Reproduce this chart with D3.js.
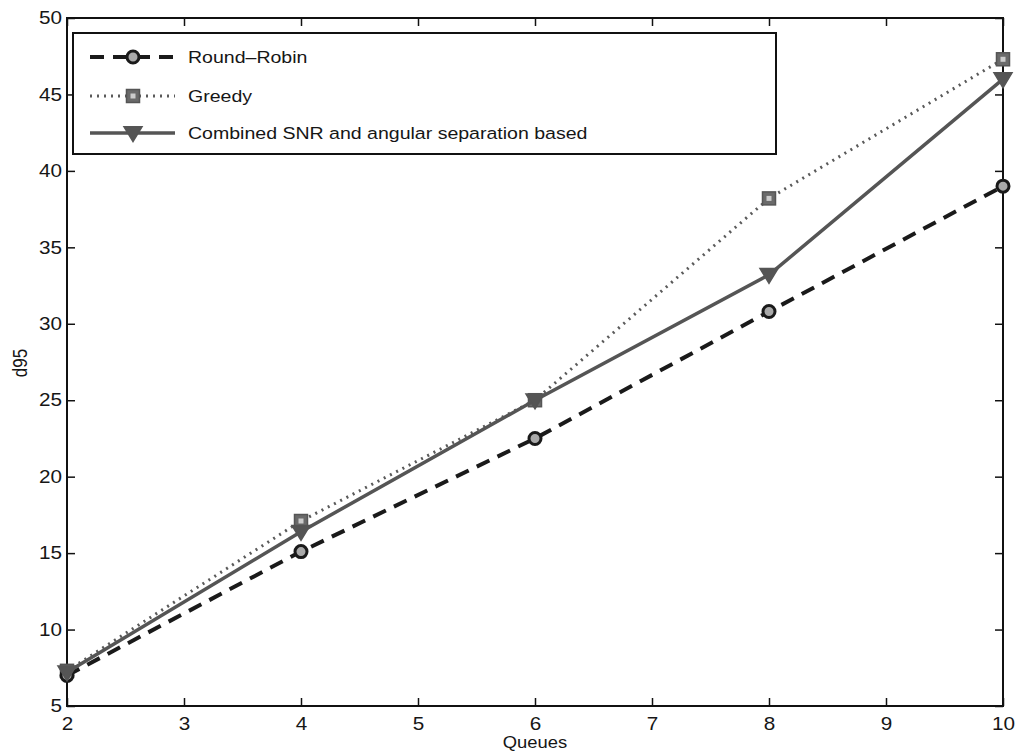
<!DOCTYPE html>
<html>
<head>
<meta charset="utf-8">
<script src="https://cdn.jsdelivr.net/npm/d3@7/dist/d3.min.js"></script>
<style>
  html, body { margin: 0; padding: 0; background: #fff; }
  svg { display: block; font-family: "Liberation Sans", Arial, Helvetica, sans-serif; }
</style>
</head>
<body>
<svg id="chart" width="1020" height="755"></svg>
<script>
// Number of queues on the x axis
const queues = [2, 4, 6, 8, 10];

// d95 values per scheduling scheme
const roundRobin = [7.0, 15.1, 22.5, 30.8, 39.0];
const greedy     = [7.3, 17.1, 25.0, 38.2, 47.3];
const combined   = [7.2, 16.4, 25.0, 33.2, 46.0];

// Tick labels
const xTicks = [2, 3, 4, 5, 6, 7, 8, 9, 10];
const yTicks = [5, 10, 15, 20, 25, 30, 35, 40, 45, 50];

const seriesNames = ["Round\u2013Robin", "Greedy", "Combined SNR and angular separation based"];

const svg = d3.select("#chart");
const plotLeft = 67, plotRight = 1003, plotTop = 18, plotBottom = 706;

const x = d3.scaleLinear().domain([2, 10]).range([plotLeft, plotRight]);
const y = d3.scaleLinear().domain([5, 50]).range([plotBottom, plotTop]);

const tickLen = 8;
const axisColor = "#111";
const textColor = "#161616";
const stretch = 1.15;   // glyphs are a little wider than regular Helvetica

// Inward ticks on all four sides
const axisG = svg.append("g");
const xAxisB = d3.axisBottom(x).tickValues(xTicks).tickSizeInner(-tickLen).tickSizeOuter(0).tickPadding(11).tickFormat(d3.format("d"));
const xAxisT = d3.axisTop(x).tickValues(xTicks).tickSizeInner(-tickLen).tickSizeOuter(0).tickFormat("");
const yAxisL = d3.axisLeft(y).tickValues(yTicks).tickSizeInner(-tickLen).tickSizeOuter(0).tickPadding(5).tickFormat(d3.format("d"));
const yAxisR = d3.axisRight(y).tickValues(yTicks).tickSizeInner(-tickLen).tickSizeOuter(0).tickFormat("");

const gb = axisG.append("g").attr("transform", `translate(0,${plotBottom})`).call(xAxisB);
const gt = axisG.append("g").attr("transform", `translate(0,${plotTop})`).call(xAxisT);
const gl = axisG.append("g").attr("transform", `translate(${plotLeft},0)`).call(yAxisL);
const gr = axisG.append("g").attr("transform", `translate(${plotRight},0)`).call(yAxisR);

[gb, gt, gl, gr].forEach(g => {
  g.select(".domain").remove();
  g.selectAll(".tick line").attr("stroke", axisColor).attr("stroke-width", 1.5);
  g.selectAll(".tick text").attr("fill", textColor).attr("font-size", 18)
    .attr("transform", `scale(${stretch},1)`);
});
gl.selectAll(".tick text").attr("x", -5 / stretch);

// Plot box
svg.append("rect")
  .attr("x", plotLeft).attr("y", plotTop)
  .attr("width", plotRight - plotLeft).attr("height", plotBottom - plotTop)
  .attr("fill", "none").attr("stroke", axisColor).attr("stroke-width", 2);

// Axis titles
svg.append("text").attr("transform", `translate(${(plotLeft + plotRight) / 2},748) scale(${stretch},1)`)
  .attr("text-anchor", "middle").attr("font-size", 16).attr("fill", textColor).text("Queues");
svg.append("text").attr("transform", `translate(27,${(plotTop + plotBottom) / 2 + 1}) rotate(-90) scale(1,${stretch})`)
  .attr("text-anchor", "middle").attr("font-size", 17).attr("fill", textColor).text("d95");

// Series styles
const series = [
  { name: seriesNames[0], values: roundRobin, color: "#1a1a1a", width: 4, dash: "14,9", marker: "circle" },
  { name: seriesNames[1], values: greedy, color: "#5a5a5a", width: 3, dash: "2,5", marker: "square" },
  { name: seriesNames[2], values: combined, color: "#555", width: 3.5, dash: null, marker: "triangle" }
];

const line = d3.line().x(d => x(d[0])).y(d => y(d[1]));

function drawMarker(g, type, cx, cy) {
  if (type === "circle") {
    g.append("circle").attr("cx", cx).attr("cy", cy).attr("r", 6)
      .attr("fill", "#aaa").attr("stroke", "#1a1a1a").attr("stroke-width", 3);
  } else if (type === "square") {
    g.append("rect").attr("x", cx - 6.5).attr("y", cy - 6.5).attr("width", 13).attr("height", 13)
      .attr("fill", "#6a6a6a").attr("stroke", "#555").attr("stroke-width", 1.5);
    g.append("rect").attr("x", cx - 2.5).attr("y", cy - 2.5).attr("width", 5).attr("height", 5)
      .attr("fill", "#ccc");
  } else {
    const s = 9;
    g.append("path")
      .attr("d", `M${cx - s},${cy - s * 0.7}L${cx + s},${cy - s * 0.7}L${cx},${cy + s * 0.95}Z`)
      .attr("fill", "#555").attr("stroke", "#555").attr("stroke-width", 1.5);
  }
}

const plotG = svg.append("g");
// Greedy first, then round-robin, then combined on top
[1, 0, 2].forEach(i => {
  const s = series[i];
  const pts = queues.map((q, j) => [q, s.values[j]]);
  plotG.append("path").datum(pts)
    .attr("d", line).attr("fill", "none")
    .attr("stroke", s.color).attr("stroke-width", s.width)
    .attr("stroke-dasharray", s.dash);
  const mg = plotG.append("g");
  pts.forEach(p => drawMarker(mg, s.marker, x(p[0]), y(p[1])));
});

// Legend
const lg = svg.append("g");
lg.append("rect").attr("x", 73).attr("y", 33).attr("width", 703).attr("height", 121)
  .attr("fill", "#fff").attr("stroke", axisColor).attr("stroke-width", 2);
const rowsY = [57, 96, 133];
series.forEach((s, i) => {
  const yy = rowsY[i];
  lg.append("line").attr("x1", 90).attr("x2", 175).attr("y1", yy).attr("y2", yy)
    .attr("stroke", s.color).attr("stroke-width", s.width)
    .attr("stroke-dasharray", s.dash);
  drawMarker(lg, s.marker, 133, yy);
  lg.append("text").attr("transform", `translate(188,${yy}) scale(1.15,1)`).attr("dy", "0.36em")
    .attr("font-size", 17).attr("fill", textColor).text(s.name);
});
</script>
</body>
</html>
